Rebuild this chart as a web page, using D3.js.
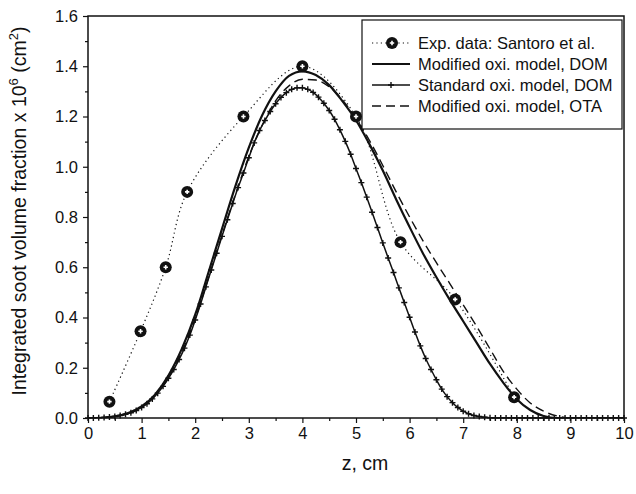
<!DOCTYPE html>
<html><head><meta charset="utf-8">
<script src="https://cdn.jsdelivr.net/npm/d3@7"></script>
<style>
html,body{margin:0;padding:0;background:#fff;}
svg text{font-family:"Liberation Sans",Arial,Helvetica,sans-serif;fill:#111;}
</style></head>
<body><svg id="c" width="636" height="494"></svg>
<script>
// ---- data ----
const expZ = [0.4, 0.98, 1.45, 1.85, 2.9, 4.0, 5.0, 5.83, 6.85, 7.95];
const expV = [0.065, 0.345, 0.6, 0.9, 1.2, 1.4, 1.2, 0.7, 0.472, 0.083];

// grid 0..10 step 0.25
const gridCoarse = d3.range(41).map(i => i * 0.25);
const modDomV = [0, 0.001, 0.007, 0.02, 0.046, 0.093, 0.169, 0.275, 0.411, 0.581,
  0.753, 0.923, 1.076, 1.205, 1.30, 1.362, 1.38, 1.365, 1.325, 1.26,
  1.185, 1.09, 0.985, 0.87, 0.76, 0.655, 0.56, 0.47, 0.385, 0.30,
  0.215, 0.14, 0.075, 0.032, 0.008, 0, 0, 0, 0, 0, 0];
const modOtaV = [0, 0.001, 0.006, 0.018, 0.043, 0.088, 0.16, 0.262, 0.395, 0.56,
  0.728, 0.89, 1.04, 1.165, 1.262, 1.322, 1.348, 1.345, 1.318, 1.265,
  1.192, 1.105, 1.005, 0.9, 0.8, 0.705, 0.618, 0.535, 0.45, 0.365,
  0.275, 0.185, 0.115, 0.06, 0.027, 0.008, 0, 0, 0, 0, 0];

// grid 0..10 step 0.1
const gridFine = d3.range(101).map(i => i / 10);
const stdDomV = [0, 0, 0.001, 0.002, 0.004, 0.006, 0.010, 0.015, 0.021, 0.030,
  0.042, 0.057, 0.076, 0.099, 0.126, 0.158, 0.193, 0.233, 0.278, 0.330,
  0.390, 0.454, 0.522, 0.589, 0.656, 0.723, 0.789, 0.854, 0.917, 0.975,
  1.036, 1.095, 1.144, 1.184, 1.220, 1.251, 1.276, 1.295, 1.308, 1.314,
  1.314, 1.308, 1.296, 1.277, 1.253, 1.224, 1.189, 1.147, 1.101, 1.050,
  0.993, 0.937, 0.879, 0.819, 0.758, 0.697, 0.637, 0.579, 0.518, 0.460,
  0.401, 0.342, 0.287, 0.237, 0.193, 0.152, 0.115, 0.085, 0.061, 0.042,
  0.027, 0.017, 0.010, 0.006, 0.003, 0.001, 0, 0, 0, 0,
  0, 0, 0, 0, 0, 0, 0, 0, 0, 0,
  0, 0, 0, 0, 0, 0, 0, 0, 0, 0, 0];

const xTicks = [0,1,2,3,4,5,6,7,8,9,10];
const yTicks = [0, 0.2, 0.4, 0.6, 0.8, 1.0, 1.2, 1.4, 1.6];
const legendLabels = ["Exp. data: Santoro et al.", "Modified oxi. model, DOM",
  "Standard oxi. model, DOM", "Modified oxi. model, OTA"];

// ---- chart ----
const svg = d3.select("#c");
const L = 88, R = 624, T = 16, B = 418;
const x = d3.scaleLinear().domain([0, 10]).range([L, R]);
const y = d3.scaleLinear().domain([0, 1.6]).range([B, T]);

svg.append("defs").append("clipPath").attr("id", "pc")
  .append("rect").attr("x", L).attr("y", T - 10).attr("width", R - L).attr("height", B - T + 10);

// axes
const xAxis = d3.axisBottom(x).tickValues(xTicks).tickFormat(d3.format("d")).tickSize(5).tickPadding(4);
const xMinor = d3.axisBottom(x).tickValues(d3.range(10).map(i => i + 0.5)).tickFormat("").tickSize(3);
const yAxis = d3.axisLeft(y).tickValues(yTicks).tickFormat(d3.format(".1f")).tickSize(5).tickPadding(5);
const yMinor = d3.axisLeft(y).tickValues(d3.range(8).map(i => i * 0.2 + 0.1)).tickFormat("").tickSize(3);

function styleAxis(g) {
  g.select(".domain").remove();
  g.selectAll(".tick line").attr("stroke", "#111").attr("stroke-width", 1.2);
  g.selectAll("text").attr("font-size", 16.5).attr("fill", "#111");
}
svg.append("g").attr("transform", `translate(0,${B})`).call(xAxis).call(styleAxis);
svg.append("g").attr("transform", `translate(0,${B})`).call(xMinor).call(styleAxis);
svg.append("g").attr("transform", `translate(${L},0)`).call(yAxis).call(styleAxis);
svg.append("g").attr("transform", `translate(${L},0)`).call(yMinor).call(styleAxis);

// frame
svg.append("rect").attr("x", L).attr("y", T).attr("width", R - L).attr("height", B - T)
  .attr("fill", "none").attr("stroke", "#111").attr("stroke-width", 1.5);

const plot = svg.append("g").attr("clip-path", "url(#pc)");

const toPts = (zs, vs) => zs.map((z, i) => [z, vs[i]]);
const line = d3.line().x(d => x(d[0])).y(d => y(d[1])).curve(d3.curveMonotoneX);

// experimental dotted connection
plot.append("path").datum(toPts(expZ, expV))
  .attr("d", d3.line().x(d => x(d[0])).y(d => y(d[1])).curve(d3.curveCatmullRom.alpha(0.5)))
  .attr("fill", "none").attr("stroke", "#111").attr("stroke-width", 1.2).attr("stroke-dasharray", "1.2,3.2");

// modified OTA dashed
plot.append("path").datum(toPts(gridCoarse, modOtaV)).attr("d", line)
  .attr("fill", "none").attr("stroke", "#111").attr("stroke-width", 1.4).attr("stroke-dasharray", "9,5");
// standard DOM
const stdPts = toPts(gridFine, stdDomV);
plot.append("path").datum(stdPts).attr("d", line)
  .attr("fill", "none").attr("stroke", "#111").attr("stroke-width", 1.5);
// modified DOM solid
plot.append("path").datum(toPts(gridCoarse, modDomV)).attr("d", line)
  .attr("fill", "none").attr("stroke", "#111").attr("stroke-width", 2.2);

// plus markers
const plusSym = d3.symbol().type(d3.symbolCross);
function plusPath(cx, cy, s) {
  return `M${cx - s},${cy}H${cx + s}M${cx},${cy - s}V${cy + s}`;
}
svg.append("g").selectAll("path").data(stdPts).join("path")
  .attr("d", d => plusPath(x(d[0]), y(d[1]), 3))
  .attr("stroke", "#111").attr("stroke-width", 1.4);

// circle markers (data)
const em = svg.append("g");
em.selectAll("circle").data(expZ).join("circle")
  .attr("cx", d => x(d)).attr("cy", (d, i) => y(expV[i])).attr("r", 6).attr("fill", "#111");
em.selectAll("path").data(expZ).join("path")
  .attr("d", (d, i) => plusPath(x(d), y(expV[i]), 2.2))
  .attr("stroke", "#fff").attr("stroke-width", 1.6);

// axis titles
svg.append("text").attr("x", 365).attr("y", 470).attr("text-anchor", "middle")
  .attr("font-size", 19.5).text("z, cm");
const yt = svg.append("text").attr("transform", "translate(26,211) rotate(-90)")
  .attr("text-anchor", "middle").attr("font-size", 19.5);
yt.append("tspan").text("Integrated soot volume fraction x 10");
yt.append("tspan").attr("dy", -8).attr("font-size", 13).text("6");
yt.append("tspan").attr("dy", 8).text(" (cm");
yt.append("tspan").attr("dy", -8).attr("font-size", 13).text("2");
yt.append("tspan").attr("dy", 8).text(")");

// legend
const ly = [43, 64, 85, 106];
const lx0 = 372, lx1 = 410;
svg.append("rect").attr("x", 362).attr("y", 20).attr("width", 260).attr("height", 109)
  .attr("fill", "#fff").attr("stroke", "#111").attr("stroke-width", 1.2);
const legendStyles = [
  {w: 1.2, dash: "1.2,3.2"}, {w: 2.2, dash: null}, {w: 1.5, dash: null}, {w: 1.4, dash: "9,5"}
];
svg.append("g").selectAll("line").data(legendStyles).join("line")
  .attr("x1", lx0).attr("x2", lx1).attr("y1", (d, i) => ly[i]).attr("y2", (d, i) => ly[i])
  .attr("stroke", "#111").attr("stroke-width", d => d.w).attr("stroke-dasharray", d => d.dash);
svg.append("g").selectAll("text").data(legendLabels).join("text")
  .attr("x", 418).attr("y", (d, i) => ly[i]).attr("dy", "0.36em")
  .attr("font-size", 16.5).text(d => d);
// legend symbols, drawn last
const lsym = svg.append("g");
lsym.append("path").attr("d", plusPath(391, ly[2], 3)).attr("stroke", "#111").attr("stroke-width", 1.4);
lsym.append("circle").attr("cx", 392).attr("cy", ly[0]).attr("r", 6).attr("fill", "#111");
lsym.append("path").attr("d", plusPath(392, ly[0], 2.2)).attr("stroke", "#fff").attr("stroke-width", 1.6);
</script></body></html>
